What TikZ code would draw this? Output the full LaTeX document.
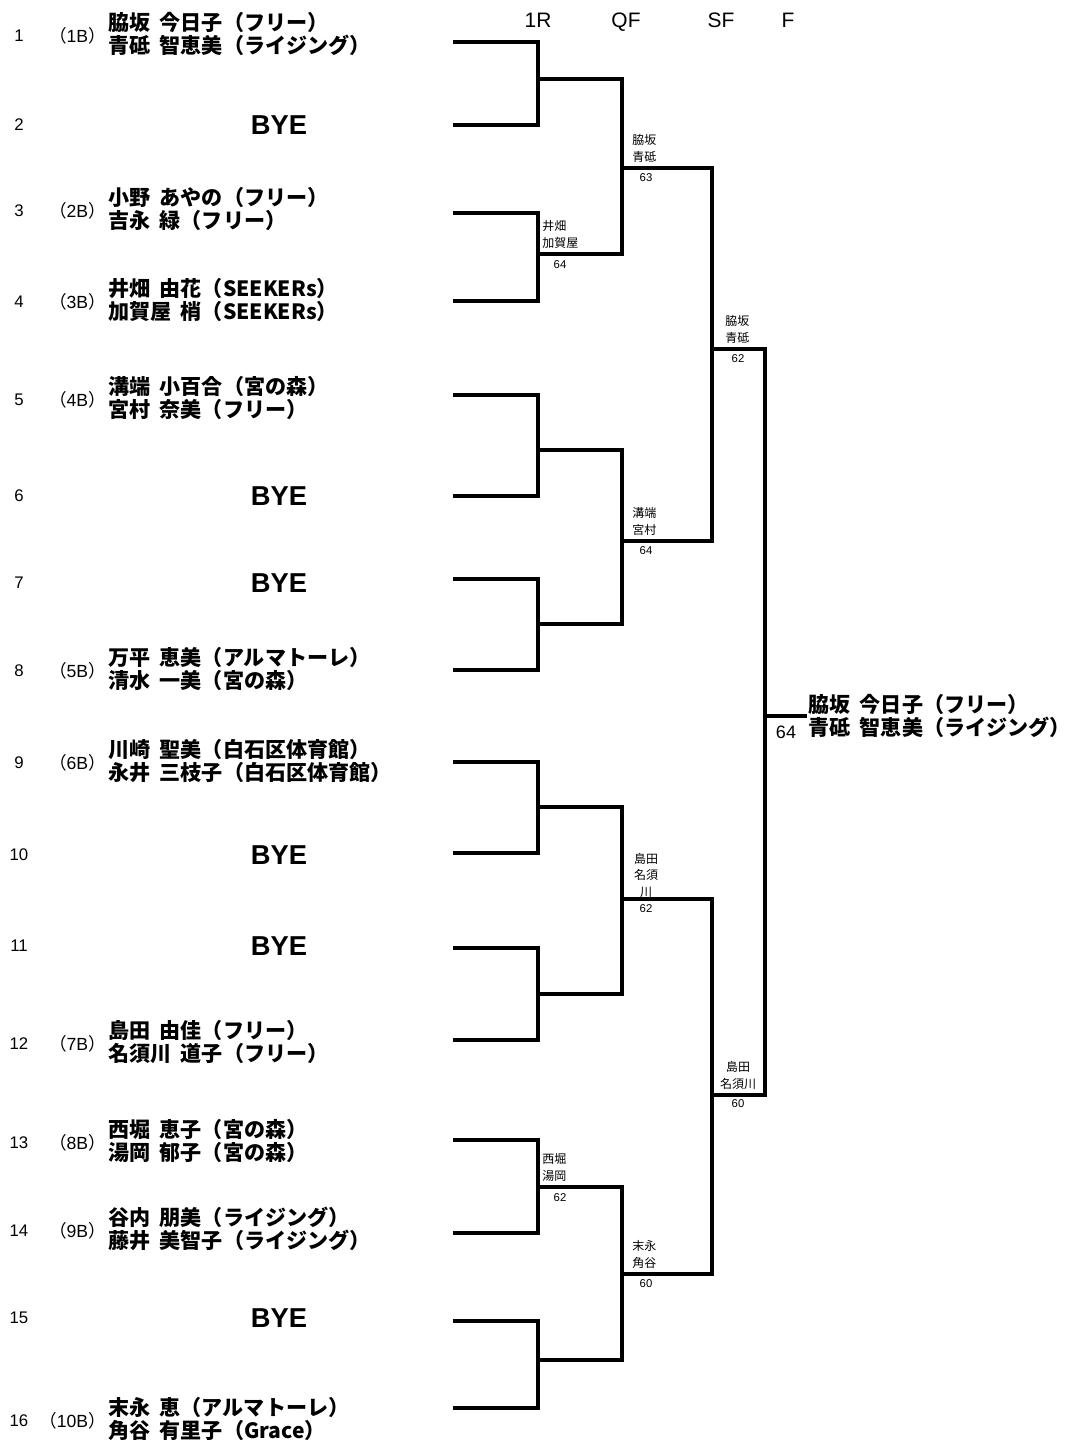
\documentclass[tikz,border=0pt]{standalone}
\usepackage{fontspec}
\setmainfont{Liberation Sans}
\newfontfamily\jp{Noto Sans CJK JP}
\newcommand{\gap}{\hspace{0.45em}}
\newcommand{\sd}[1]{{\jp （}#1{\jp ）}}
\tikzset{
  br/.style={line width=2.3pt, line cap=rect},
  pname/.style={anchor=west, font=\jp\bfseries\fontsize{15.8}{17.5}\selectfont, align=left, inner sep=0pt},
  pnum/.style={font=\fontsize{12.6}{14}\selectfont, inner sep=0pt},
  pseed/.style={anchor=east, font=\fontsize{13.2}{16}\selectfont, inner sep=0pt},
  bye/.style={font=\bfseries\fontsize{20.5}{24}\selectfont, inner sep=0pt},
  hdr/.style={anchor=base, font=\fontsize{15.7}{18}\selectfont, inner sep=0pt},
  lbl/.style={anchor=south west, font=\jp\fontsize{9}{12.6}\selectfont, align=left, inner sep=0pt},
  lblc/.style={anchor=south, font=\jp\fontsize{9}{12.6}\selectfont, align=center, inner sep=0pt},
  score/.style={font=\fontsize{8.5}{10}\selectfont, inner sep=0pt},
}
\begin{document}
\begin{tikzpicture}[x=0.75pt,y=-0.75pt]
\useasboundingbox (0,0) rectangle (1075,1445);
\fill[white] (0,0) rectangle (1075,1445);

% headers
\node[hdr] (h1) at (538,28) {1R};
\node[hdr] (h2) at (626,28) {QF};
\node[hdr] (h3) at (721,28) {SF};
\node[hdr] (h4) at (788,28) {F};

% player line ends
\coordinate (e1) at (455,42);
\coordinate (e2) at (455,125);
\coordinate (e3) at (455,213);
\coordinate (e4) at (455,301);
\coordinate (e5) at (455,395);
\coordinate (e6) at (455,496);
\coordinate (e7) at (455,579);
\coordinate (e8) at (455,670);
\coordinate (e9) at (455,762);
\coordinate (e10) at (455,853);
\coordinate (e11) at (455,948);
\coordinate (e12) at (455,1040);
\coordinate (e13) at (455,1140);
\coordinate (e14) at (455,1233);
\coordinate (e15) at (455,1321);
\coordinate (e16) at (455,1408);

% round junctions
\coordinate (a1) at (538,79);
\coordinate (a2) at (538,254);
\coordinate (a3) at (538,450);
\coordinate (a4) at (538,624);
\coordinate (a5) at (538,807);
\coordinate (a6) at (538,994);
\coordinate (a7) at (538,1187);
\coordinate (a8) at (538,1360);
\coordinate (b1) at (622,168);
\coordinate (b2) at (622,541);
\coordinate (b3) at (622,899);
\coordinate (b4) at (622,1274);
\coordinate (c1) at (712,349);
\coordinate (c2) at (712,1095);
\coordinate (d) at (765,716);
\coordinate (w) at (805,716);

% brackets
\draw[br] (e1) -| (a1) |- (e2);
\draw[br] (e3) -| (a2) |- (e4);
\draw[br] (e5) -| (a3) |- (e6);
\draw[br] (e7) -| (a4) |- (e8);
\draw[br] (e9) -| (a5) |- (e10);
\draw[br] (e11) -| (a6) |- (e12);
\draw[br] (e13) -| (a7) |- (e14);
\draw[br] (e15) -| (a8) |- (e16);
\draw[br] (a1) -| (b1) |- (a2);
\draw[br] (a3) -| (b2) |- (a4);
\draw[br] (a5) -| (b3) |- (a6);
\draw[br] (a7) -| (b4) |- (a8);
\draw[br] (b1) -| (c1) |- (b2);
\draw[br] (b3) -| (c2) |- (b4);
\draw[br] (c1) -| (d) |- (c2);
\draw[br] (d) -- (w);

% player numbers
\node[pnum] (n1) at (19,36) {1};
\node[pnum] (n2) at (19,125) {2};
\node[pnum] (n3) at (19,211) {3};
\node[pnum] (n4) at (19,302) {4};
\node[pnum] (n5) at (19,400) {5};
\node[pnum] (n6) at (19,496) {6};
\node[pnum] (n7) at (19,583) {7};
\node[pnum] (n8) at (19,671) {8};
\node[pnum] (n9) at (19,763) {9};
\node[pnum] (n10) at (19,855) {10};
\node[pnum] (n11) at (19,946) {11};
\node[pnum] (n12) at (19,1044) {12};
\node[pnum] (n13) at (19,1143) {13};
\node[pnum] (n14) at (19,1231) {14};
\node[pnum] (n15) at (19,1318) {15};
\node[pnum] (n16) at (19,1421) {16};

% seeds
\node[pseed] (s1) at (106,36) {\sd{1B}};
\node[pseed] (s3) at (106,211) {\sd{2B}};
\node[pseed] (s4) at (106,302) {\sd{3B}};
\node[pseed] (s5) at (106,400) {\sd{4B}};
\node[pseed] (s8) at (106,671) {\sd{5B}};
\node[pseed] (s9) at (106,763) {\sd{6B}};
\node[pseed] (s12) at (106,1044) {\sd{7B}};
\node[pseed] (s13) at (106,1143) {\sd{8B}};
\node[pseed] (s14) at (106,1231) {\sd{9B}};
\node[pseed] (s16) at (106,1421) {\sd{10B}};

% names
\node[pname] (p1) at (108,34) {脇坂\gap 今日子（フリー）\\青砥\gap 智恵美（ライジング）};
\node[bye] (p2) at (279,125) {BYE};
\node[pname] (p3) at (108,209) {小野\gap あやの（フリー）\\吉永\gap 緑（フリー）};
\node[pname] (p4) at (108,300) {井畑\gap 由花（SEEKERs）\\加賀屋\gap 梢（SEEKERs）};
\node[pname] (p5) at (108,398) {溝端\gap 小百合（宮の森）\\宮村\gap 奈美（フリー）};
\node[bye] (p6) at (279,496) {BYE};
\node[bye] (p7) at (279,583) {BYE};
\node[pname] (p8) at (108,669) {万平\gap 恵美（アルマトーレ）\\清水\gap 一美（宮の森）};
\node[pname] (p9) at (108,761) {川崎\gap 聖美（白石区体育館）\\永井\gap 三枝子（白石区体育館）};
\node[bye] (p10) at (279,855) {BYE};
\node[bye] (p11) at (279,946) {BYE};
\node[pname] (p12) at (108,1042) {島田\gap 由佳（フリー）\\名須川\gap 道子（フリー）};
\node[pname] (p13) at (108,1141) {西堀\gap 恵子（宮の森）\\湯岡\gap 郁子（宮の森）};
\node[pname] (p14) at (108,1229) {谷内\gap 朋美（ライジング）\\藤井\gap 美智子（ライジング）};
\node[bye] (p15) at (279,1318) {BYE};
\node[pname] (p16) at (108,1419) {末永\gap 恵（アルマトーレ）\\角谷\gap 有里子（Grace）};

% match labels
\node[lbl] (l1) at (542,249) {井畑\\加賀屋};
\node[score] (r1) at (560,265) {64};
\node[lbl] (l2) at (632,163) {脇坂\\青砥};
\node[score] (r2) at (646,178) {63};
\node[lbl] (l3) at (725,344) {脇坂\\青砥};
\node[score] (r3) at (738,359) {62};
\node[lbl] (l4) at (632,536) {溝端\\宮村};
\node[score] (r4) at (646,551) {64};
\node[lblc] (l5) at (646,898) {島田\\名須\\川};
\node[score] (r5) at (646,909) {62};
\node[lblc] (l6) at (738,1090) {島田\\名須川};
\node[score] (r6) at (738,1104) {60};
\node[lbl] (l7) at (542,1182) {西堀\\湯岡};
\node[score] (r7) at (560,1198) {62};
\node[lbl] (l8) at (632,1269) {末永\\角谷};
\node[score] (r8) at (646,1284) {60};

% winner
\node[pname] (win) at (808,716) {脇坂\gap 今日子（フリー）\\青砥\gap 智恵美（ライジング）};
\node[font=\fontsize{13.5}{15}\selectfont, inner sep=0pt] (fs) at (786,732) {64};
\end{tikzpicture}
\end{document}
